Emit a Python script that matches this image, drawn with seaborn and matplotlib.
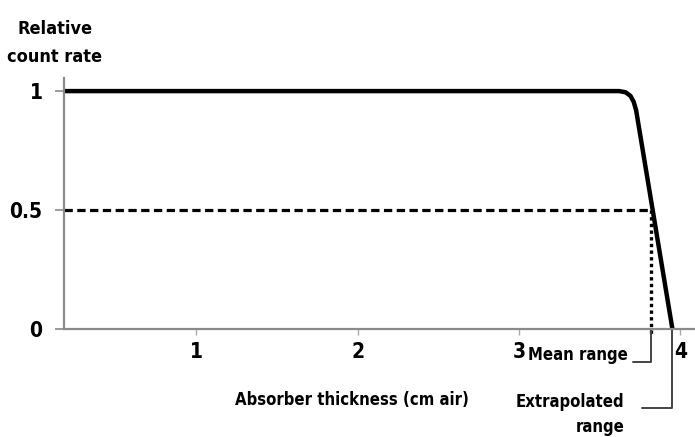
import matplotlib
matplotlib.use("Agg")
import matplotlib.pyplot as plt
import seaborn as sns
import pandas as pd

sns.set_theme(style="white")
plt.rcParams['font.family'] = ['DejaVu Sans Condensed', 'DejaVu Sans']
plt.rcParams['font.stretch'] = 'condensed'
plt.rcParams['font.weight'] = 'bold'
plt.rcParams['text.color'] = 'black'
plt.rcParams['axes.labelcolor'] = 'black'

# range curve (cm air vs relative count rate)
thickness = [0.18, 1.0, 2.0, 3.0, 3.62, 3.66, 3.69, 3.71, 3.725, 3.95]
count_rate = [1.0, 1.0, 1.0, 1.0, 1.0, 0.995, 0.98, 0.955, 0.92, 0.0]
mean_range = 3.82
extrap_range = 3.95
half_rate = 0.5
x_ticks = [1, 2, 3, 4]
y_ticks = [0, 0.5, 1]
y_tick_labels = ["0", "0.5", "1"]

df = pd.DataFrame({"thickness": thickness, "rate": count_rate})

fig = plt.figure(figsize=(6.95, 4.37), dpi=100)
ax = fig.add_axes([0.0921, 0.2471, 0.9079, 0.5744])

grey = "#8a8a8a"

# dashed half-rate line and dotted mean-range drop
ax.plot([0.18, mean_range], [half_rate, half_rate], color="black", lw=2.3,
        dashes=(2.6, 1.4), dash_capstyle="butt")
ax.plot([mean_range, mean_range], [half_rate, -0.03], color="black", lw=2.4,
        dashes=(1.0, 1.0), dash_capstyle="butt", clip_on=False)

sns.lineplot(data=df, x="thickness", y="rate", color="black", lw=3.2, ax=ax,
             sort=False, solid_joinstyle="round")

ax.set_xlim(0.18, 4.09)
ax.set_ylim(0, 1.055)
ax.set_xticks(x_ticks)
ax.set_xticklabels([str(t) for t in x_ticks])
ax.set_yticks(y_ticks)
ax.set_yticklabels(y_tick_labels)

for s in ["top", "right"]:
    ax.spines[s].set_visible(False)
for s in ["left", "bottom"]:
    ax.spines[s].set_color(grey)
    ax.spines[s].set_linewidth(1.6)

ax.tick_params(axis="y", length=6.5, width=1.2, color=grey, pad=9,
               labelsize=15, left=True, labelcolor="black")
ax.tick_params(axis="x", length=4, width=1.0, color="#aaaaaa", pad=5,
               labelsize=15, bottom=True, labelcolor="black")

ax.set_xlabel("Absorber thickness (cm air)", fontsize=12, fontweight="bold")
ax.xaxis.set_label_coords(0.456, -0.283)
ax.xaxis.label.set_va("center")
ax.set_ylabel("")

# brackets for the two ranges
bc = "#444444"
ax.plot([mean_range, mean_range, 3.703], [0, -0.139, -0.139], color=bc,
        lw=1.4, clip_on=False)
ax.plot([extrap_range, extrap_range, 3.759], [0, -0.332, -0.332], color=bc,
        lw=1.4, clip_on=False)
ax.text(3.672, -0.11, "Mean range", ha="right", va="center", fontsize=12)
ax.text(3.653, -0.36, "Extrapolated\nrange", ha="right", va="center",
        fontsize=12, multialignment="right", linespacing=1.5)

fig.text(0.079, 0.902, "Relative\ncount rate", ha="center", va="center",
         fontsize=13, linespacing=1.7)

fig.savefig("out.png", dpi=100, facecolor="white")
